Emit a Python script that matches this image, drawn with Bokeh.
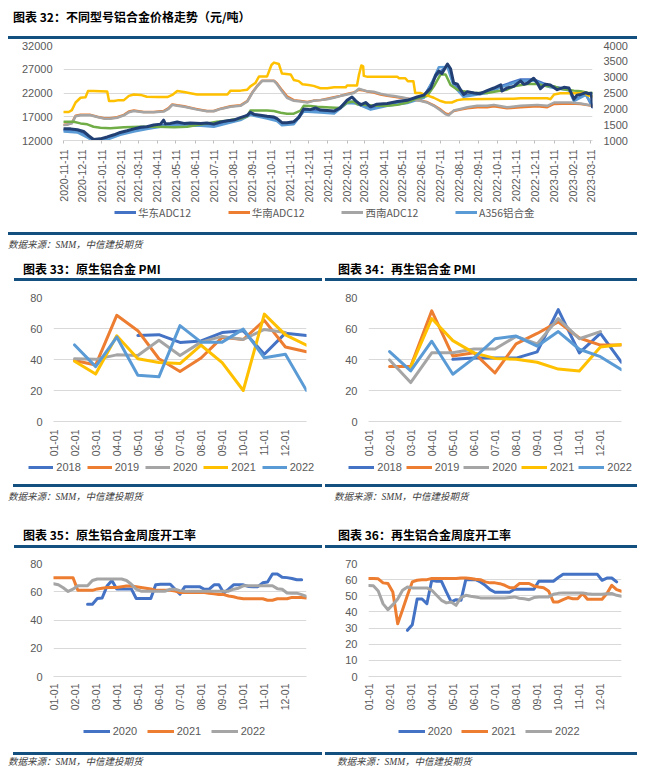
import numpy as np
import pandas as pd
from bokeh.plotting import figure
from bokeh.models import Range1d, LinearAxis, FixedTicker, Legend, LegendItem, Div
from bokeh.layouts import column, row
from bokeh.embed import file_html
from bokeh.resources import INLINE

NUM_FONT = "Liberation Sans"
CJK_FONT = "Noto Sans CJK SC"
AXIS_COLOR = "#595959"
GRID_COLOR = "#D9D9D9"
RULE_COLOR = "#134F7F"

# ---------------- Chart 32: alloy prices (x = days since 2020-11-11) ----------------
PRICE_START = "2020-11-11"
PRICE_TICK_END = "2023-03-11"
LEFT_TICKS = [12000, 17000, 22000, 27000, 32000]
RIGHT_TICKS = [1000, 1500, 2000, 2500, 3000, 3500, 4000]

EAST_DAYS = [0, 22, 40, 48, 70, 91, 113, 134, 156, 172, 194, 221, 242, 264, 285, 301, 328, 344, 352, 371,
             387, 414, 436, 457, 471, 495, 522, 554, 581, 600, 619, 629, 645, 683, 705, 737, 758, 785, 815, 823,
             842, 853]
EAST_ADC12 = [14200, 14000, 12800, 12000, 12500, 13450, 14200, 14650, 15200, 15350, 15350, 15350, 15200, 15900,
              16550, 17700, 16850, 16350, 15500, 15700, 18400, 18150, 17950, 20200, 20100, 18850, 19550, 20200,
              21300, 25500, 27850, 23850, 21450, 22250, 23450, 24850, 24850, 23450, 22800, 20450, 21800, 19000]

A356_DAYS = [0, 22, 40, 48, 70, 91, 113, 134, 156, 172, 194, 221, 242, 264, 285, 301, 328, 344, 352, 371,
             387, 414, 436, 457, 471, 495, 522, 554, 581, 595, 605, 619, 629, 645, 683, 705, 737, 758, 785, 815,
             823, 842, 853]
A356 = [13900, 13700, 12500, 11800, 12200, 13200, 13900, 14400, 14900, 15100, 15100, 15100, 14900, 15600, 16300,
        17400, 16600, 16100, 15200, 15400, 18100, 17900, 17700, 19900, 19800, 18500, 19300, 19900, 21000, 24500,
        27400, 27500, 23500, 21200, 22000, 23200, 24600, 24600, 23200, 22600, 20300, 21600, 19500]

SW_DAYS = [0, 5, 13, 19, 27, 43, 54, 65, 75, 86, 97, 105, 113, 129, 145, 161, 169, 175, 183, 194,
           204, 215, 231, 242, 253, 269, 285, 296, 304, 312, 320, 339, 344, 352, 360, 371, 382, 393, 403, 414,
           425, 436, 446, 457, 468, 476, 481, 490, 500, 511, 522, 533, 549, 560, 575, 586, 597, 608, 616, 621,
           629, 640, 651, 667, 683, 694, 715, 737, 764, 780, 791, 818, 834, 853]
SW_ADC12 = [15250, 15300, 15600, 17100, 17300, 17300, 16950, 16600, 16600, 16800, 17300, 17950, 18200, 17950,
            17950, 18100, 18650, 19500, 19300, 19100, 18850, 18500, 18150, 18150, 18650, 19100, 19300, 20200,
            22000, 23400, 24550, 24550, 23850, 22350, 21000, 20350, 20200, 20000, 20350, 20500, 20700, 21000,
            21350, 21700, 22000, 22900, 22700, 22350, 22250, 21850, 21550, 21350, 21000, 20700, 20350, 20000,
            19300, 18300, 17500, 17300, 18300, 18650, 19000, 19300, 19300, 19500, 19000, 19300, 19500, 19300,
            20000, 20000, 19800, 19300]
SOUTH_ADC12 = [15300, 15350, 15700, 17200, 17400, 17400, 17000, 16700, 16700, 16900, 17400, 18100, 18300, 18000,
               18000, 18200, 18800, 19600, 19400, 19200, 18900, 18600, 18200, 18200, 18700, 19200, 19400, 20300,
               22100, 23500, 24600, 24600, 24000, 22600, 21300, 20500, 20300, 20100, 20400, 20500, 20800, 21100,
               21400, 21800, 22100, 22700, 22600, 22300, 22100, 21700, 21400, 21200, 20900, 20700, 20400, 20100,
               19400, 18500, 17700, 17500, 18200, 18500, 18800, 19000, 19000, 19200, 18800, 19000, 19200, 19000,
               19700, 19800, 19700, 19300]

GREEN_DAYS = [0, 16, 27, 38, 48, 59, 75, 97, 124, 151, 178, 199, 215, 231, 247, 264, 274, 285, 296, 301,
              312, 328, 339, 350, 360, 371, 382, 387, 398, 409, 430, 446, 457, 468, 473, 484, 505, 522, 538, 554,
              570, 586, 597, 608, 616, 624, 635, 645, 662, 683, 699, 715, 726, 748, 764, 780, 791, 801, 812, 823,
              834, 845, 853]
GREEN_SERIES = [15950, 15950, 15600, 15400, 14900, 14700, 14600, 14800, 14900, 14900, 14800, 14900, 15250, 15600,
                15950, 16150, 16400, 16600, 17100, 18300, 18300, 18300, 18200, 17850, 17650, 17650, 18300, 19300,
                19250, 19100, 18950, 18850, 20000, 20200, 19650, 19500, 19300, 19300, 19500, 20000, 20900, 21350,
                23400, 25900, 25900, 23700, 22700, 22350, 22000, 22000, 22350, 22700, 23400, 23900, 23900, 23400,
                23400, 22900, 22700, 22500, 22350, 22050, 22000]

YELLOW_DAYS = [0, 8, 13, 19, 27, 35, 39, 48, 70, 73, 81, 89, 97, 105, 113, 124, 134, 151, 167, 175,
               183, 194, 204, 215, 231, 264, 269, 285, 296, 301, 309, 315, 328, 335, 339, 347, 352, 366, 371, 379,
               385, 395, 403, 414, 425, 436, 455, 457, 473, 476, 480, 483, 484, 490, 538, 541, 551, 555, 564, 567,
               575, 586, 597, 608, 616, 626, 635, 645, 726, 737, 780, 785, 791, 801, 834, 839, 845, 849, 853]
YELLOW_SERIES = [18000, 18000, 18400, 20000, 21000, 21100, 22400, 22400, 22300, 20300, 20300, 20500, 20500, 21400,
                 21700, 21600, 21200, 21150, 21150, 21600, 22400, 22200, 21950, 21700, 21700, 21700, 22500, 22500,
                 22700, 23400, 24100, 25500, 25500, 27900, 28400, 28100, 26100, 25900, 24750, 24500, 23850, 23700,
                 23500, 23000, 23000, 23200, 23200, 23600, 23600, 25700, 27800, 27600, 25600, 25400, 25400, 25100,
                 25100, 24500, 24500, 22000, 22000, 21500, 21000, 20300, 20000, 20000, 20500, 20700, 20800, 20900,
                 20900, 20700, 21700, 21950, 21950, 22050, 21550, 21350, 21300]

NAVY_DAYS = [0, 11, 22, 32, 40, 48, 59, 70, 81, 91, 102, 113, 124, 134, 145, 156, 161, 164, 172, 183,
             194, 204, 221, 231, 242, 253, 264, 274, 285, 296, 301, 307, 317, 328, 339, 344, 352, 360, 371, 379,
             387, 398, 406, 414, 425, 436, 446, 457, 465, 471, 479, 487, 495, 505, 522, 538, 554, 570, 581, 592,
             600, 605, 610, 619, 624, 629, 635, 640, 645, 651, 662, 672, 683, 694, 705, 707, 715, 726, 737, 742,
             748, 758, 764, 769, 777, 785, 796, 807, 815, 823, 828, 834, 842, 847, 851, 853]
NAVY_SERIES = [14450, 14450, 14250, 13900, 13000, 12200, 12350, 12750, 13200, 13700, 14050, 14450, 14800, 14900,
               15250, 15450, 16300, 15500, 15600, 15900, 15600, 15700, 15600, 15700, 15450, 15900, 16150, 16300,
               16800, 17300, 17950, 17500, 17300, 17100, 16950, 16600, 15750, 15750, 15950, 16800, 18650, 18500,
               18850, 18400, 18300, 18200, 18850, 20450, 21150, 20350, 19500, 20000, 19100, 19650, 19800, 20200,
               20450, 21150, 21550, 23050, 25750, 26600, 26100, 28100, 27100, 24100, 23850, 22700, 21700, 22250,
               22000, 21850, 22500, 23050, 23700, 22400, 23050, 23400, 24550, 23850, 24050, 25100, 24100, 22900,
               23850, 23700, 22700, 23200, 23050, 20700, 21550, 21700, 22050, 21850, 21950, 19100]

PRICE_LEGEND = ["华东ADC12", "华南ADC12", "西南ADC12", "A356铝合金"]
PRICE_LEGEND_COLORS = ["#4472C4", "#ED7D31", "#A5A5A5", "#5B9BD5"]

# ---------------- Charts 33/34: PMI (monthly, index 1..12) ----------------
MONTH_LABELS = ["01-01", "02-01", "03-01", "04-01", "05-01", "06-01",
                "07-01", "08-01", "09-01", "10-01", "11-01", "12-01"]
PMI_YEARS = ["2018", "2019", "2020", "2021", "2022"]
PRIMARY_PMI = {
    "2018": [None, None, None, 55.5, 56, 51, 52, 57.4, 58.6, 43.4, 57, 55.5],
    "2019": [39.3, 36.4, 68.5, 58.6, 40.5, 32.3, 41, 54.3, 52.9, 65.2, 48.1, 45],
    "2020": [40.5, 40.1, 43, 42.6, 52.4, 42.6, 51.2, 54.9, 52.9, 59.4, 57.4, None],
    "2021": [38.9, 30.6, 55.3, 40.5, 38, 37.4, 49.2, 38, 20, 69.3, 55.9, 49.2],
    "2022": [49.4, 35.4, 54.5, 29.8, 28.8, 61.9, 51.2, 51.2, 59.6, 41.1, 43.4, 20],
}
SECONDARY_PMI = {
    "2018": [None, None, None, 40.1, 40.9, 40.9, 40.9, 44.9, 72.2, 44.3, 56.8, 38.2],
    "2019": [35.5, 35.5, 71.4, 42.2, 44.3, 31.3, 50.1, 56.8, 64.3, 53.9, 49.3, 49.3],
    "2020": [39.7, 25.1, 44.3, 44.3, 46.8, 46.8, 54.9, 50.1, 66.4, 53.4, 58.0, None],
    "2021": [None, 35.1, 66.4, 52.2, 44.3, 40.7, 40.1, 38.2, 33.8, 32.6, 48, 49.7],
    "2022": [45.1, 32.6, 51.8, 30.5, 40.9, 53.4, 55.1, 48.6, 58, 46.6, 41.8, 33.4],
}
PMI_COLORS = {"2018": "#4472C4", "2019": "#ED7D31", "2020": "#A5A5A5", "2021": "#FFC000", "2022": "#5B9BD5"}

# ---------------- Charts 35/36: weekly operating rates ----------------
WEEK_YEARS = ["2020", "2021", "2022"]
WEEK_COLORS = {"2020": "#4472C4", "2021": "#ED7D31", "2022": "#A5A5A5"}
PRIMARY_START_WEEK = {"2020": 7, "2021": 0, "2022": 0}
PRIMARY_RATE = {
    "2020": [51.2, 51.2, 55.2, 55.6, 64, 68, 62, 62, 62, 62, 55.2, 55.2, 55.2, 55.2, 64.9, 65.3, 65.3, 65.3,
             61.8, 58.3, 63.6, 63.6, 63.6, 63.6, 61.8, 61.8, 64.9, 64.9, 59.1, 61.8, 64.9, 64.9, 64.9, 63.8,
             63.6, 63.6, 66.3, 66.9, 72.6, 72.6, 70.2, 70, 69.4, 68.5, 68.5],
    "2021": [70, 70, 70, 70, 70, 61, 61, 61, 61, 62, 62.5, 63, 63, 63, 63.5, 64, 64, 63.5, 63, 62.5, 62, 61,
             61, 61, 61, 60.5, 59.5, 59.5, 59.5, 59.5, 59.5, 59.5, 59, 58.5, 58, 58, 57, 56.5, 55.5, 55, 55,
             55, 55, 55, 54, 54, 55, 55, 55, 56, 56, 56, 55.5],
    "2022": [65.7, 65, 62.8, 60.2, 61.8, 64.2, 64.2, 64.2, 68, 69, 69, 69, 69, 69, 69, 68, 65.3, 61.8, 60.4,
             60.4, 60.4, 60.4, 60.4, 60.4, 61.8, 61.8, 60.8, 60.4, 60.4, 60.4, 60.4, 60.4, 60.4, 60.4, 60.4,
             60.4, 60.4, 61.8, 62.5, 64.2, 64.2, 64.2, 64.2, 64.2, 64.2, 64.2, 62.2, 61.8, 59.1, 59, 59, 58,
             56.7],
}
SECONDARY_START_WEEK = {"2020": 8, "2021": 0, "2022": 0}
SECONDARY_RATE = {
    "2020": [28.6, 32.1, 48, 48, 45.1, 59.6, 59, 59, 52.4, 46.2, 47.6, 47.2, 60, 60, 60, 58.6, 56.5, 53.8,
             52.2, 52.2, 52.2, 52.2, 54, 54, 54, 54, 54, 59, 59, 59, 59, 61.3, 63.4, 63.4, 63.4, 63.4, 63.4,
             63.4, 63.4, 63.4, 59.6, 61, 61, 58.6],
    "2021": [60.7, 60.7, 60.5, 58, 57.6, 52.4, 32.7, 41.4, 50.3, 58.6, 59.6, 60, 60, 60.7, 60.7, 60.7, 60.7,
             60.7, 60.7, 61, 61, 60.7, 60.3, 60, 58.6, 58, 58, 57.5, 56.5, 55, 55, 57.6, 57.6, 57.6, 56.1, 55.5,
             55, 53, 46.2, 46.2, 47.6, 48.9, 48.2, 48.2, 51.4, 47.8, 47.8, 47.8, 47.8, 51.4, 56.5, 53.8, 52.8],
    "2022": [56.3, 56.2, 53, 45, 41.4, 44.5, 48, 53.4, 55.5, 54.9, 54.9, 54.9, 54.9, 53.4, 50.3, 47.2, 45.6,
             46.2, 44.1, 48.9, 50.3, 49.7, 49.2, 48.7, 48.7, 48.7, 48.7, 48.7, 48.7, 49, 49.3, 48.5, 48.2, 47.6,
             48.9, 49.3, 49.3, 49.3, 50.9, 51.5, 51.8, 51.8, 51.8, 51.8, 51.8, 51.3, 50.9, 50.9, 50.9, 51.2,
             51.4, 50.3, 49.7],
}
WEEKS_PER_YEAR = 52

TITLE_32 = "图表 32：不同型号铝合金价格走势（元/吨）"
TITLE_33 = "图表 33：原生铝合金 PMI"
TITLE_34 = "图表 34：再生铝合金 PMI"
TITLE_35 = "图表 35：原生铝合金周度开工率"
TITLE_36 = "图表 36：再生铝合金周度开工率"
SOURCE = "数据来源：SMM，中信建投期货"


# ---------------- helpers ----------------
def base_fig(width, height, x_range, y_range, borders, yticks):
    l, r, t, b = borders
    p = figure(width=width, height=height, x_range=x_range, y_range=y_range,
               output_backend="svg", toolbar_location=None, title=None,
               min_border_left=l, min_border_right=r, min_border_top=t, min_border_bottom=b,
               background_fill_color="white", border_fill_color="white")
    p.outline_line_color = None
    p.xgrid.visible = False
    p.ygrid.grid_line_color = GRID_COLOR
    p.ygrid.grid_line_width = 1
    ya = p.yaxis[0]
    ya.ticker = FixedTicker(ticks=yticks)
    ya.axis_line_color = None
    ya.major_tick_line_color = None
    ya.minor_tick_line_color = None
    ya.major_tick_out = 0
    ya.major_tick_in = 0
    ya.major_label_standoff = 11
    ya.major_label_text_font = NUM_FONT
    ya.major_label_text_font_size = "11px"
    ya.major_label_text_color = AXIS_COLOR
    xa = p.xaxis[0]
    xa.axis_line_color = GRID_COLOR
    xa.minor_tick_line_color = None
    xa.major_label_orientation = np.pi / 2
    xa.major_label_text_font = NUM_FONT
    xa.major_label_text_color = AXIS_COLOR
    return p


def legend_strip(width, height, entries, x0, pitch, y0, glyph_w, standoff, font, size, line_w):
    """A thin figure that only holds the legend entries, one Legend per entry."""
    p = figure(width=width, height=height, x_range=Range1d(0, width), y_range=Range1d(0, height),
               output_backend="svg", toolbar_location=None, title=None, min_border=0,
               x_axis_location=None, y_axis_location=None,
               background_fill_color="white", border_fill_color="white")
    p.outline_line_color = None
    p.xgrid.visible = False
    p.ygrid.visible = False
    for i, (label, color) in enumerate(entries):
        r = p.line(x=[np.nan, np.nan], y=[np.nan, np.nan], line_color=color, line_width=line_w)
        lg = Legend(items=[LegendItem(label=label, renderers=[r])], location=(x0 + i * pitch, y0),
                    orientation="horizontal", glyph_width=glyph_w, glyph_height=12, label_height=12,
                    label_width=5, label_standoff=standoff, spacing=0, padding=0, margin=0,
                    border_line_color=None, background_fill_alpha=0,
                    label_text_font=font, label_text_font_size=size, label_text_color=AXIS_COLOR,
                    label_text_align="left")
        p.add_layout(lg, "center")
    return p


def title_div(text, width, height, pad_top, rule_left, rule_w, indent):
    html = (f'<div style="margin-left:{rule_left}px;width:{rule_w}px;height:{height}px;box-sizing:border-box;'
            f'border-bottom:3px solid {RULE_COLOR};padding-top:{pad_top}px;padding-left:{indent}px;'
            f'font-family:\'{CJK_FONT}\';font-weight:700;font-size:12px;line-height:14px;color:#000;'
            f'white-space:nowrap;">{text}</div>')
    return Div(text=html, width=width, height=height, margin=0)


def source_div(width, height, top_gap, rule_left, rule_w, indent, pad_top):
    html = (f'<div style="height:{top_gap}px"></div>'
            f'<div style="margin-left:{rule_left}px;width:{rule_w}px;height:0;border-top:3px solid {RULE_COLOR};"></div>'
            f'<div style="padding-left:{indent}px;padding-top:{pad_top}px;font-style:italic;font-size:9.5px;'
            f'line-height:12px;font-family:\'Liberation Serif\',\'{CJK_FONT}\';color:#404040;white-space:nowrap;">'
            f'{SOURCE}</div>')
    return Div(text=html, width=width, height=height, margin=0)


# ---------------- Chart 32 ----------------
tick_dates = pd.date_range(PRICE_START, PRICE_TICK_END, freq=pd.DateOffset(months=1))
tick_days = [int((d - pd.Timestamp(PRICE_START)).days) for d in tick_dates]
tick_labels = [d.strftime("%Y-%m-%d") for d in tick_dates]

p1 = base_fig(629, 166, Range1d(-0.5, 853), Range1d(LEFT_TICKS[0], LEFT_TICKS[-1]), (55, 45, 6, 64), LEFT_TICKS)
p1.extra_y_ranges = {"right": Range1d(RIGHT_TICKS[0], RIGHT_TICKS[-1])}
ra = LinearAxis(y_range_name="right", ticker=FixedTicker(ticks=RIGHT_TICKS))
ra.axis_line_color = None
ra.major_tick_line_color = None
ra.minor_tick_line_color = None
ra.major_tick_out = 0
ra.major_tick_in = 0
ra.major_label_standoff = 11
ra.major_label_text_font = NUM_FONT
ra.major_label_text_font_size = "11px"
ra.major_label_text_color = AXIS_COLOR
p1.add_layout(ra, "right")
xa = p1.xaxis[0]
xa.ticker = FixedTicker(ticks=tick_days)
xa.major_label_overrides = {d: lab for d, lab in zip(tick_days, tick_labels)}
xa.major_tick_out = 3
xa.major_tick_in = 0
xa.major_tick_line_color = "#BFBFBF"
xa.major_label_standoff = 6
xa.major_label_text_font_size = "10.5px"


def pline(days, vals, color, width):
    n = min(len(days), len(vals))
    return p1.line(days[:n], vals[:n], line_color=color, line_width=width, line_join="round", line_cap="round")


pline(EAST_DAYS, EAST_ADC12, PRICE_LEGEND_COLORS[0], 2.5)
pline(A356_DAYS, A356, PRICE_LEGEND_COLORS[3], 2.5)
pline(SW_DAYS, SOUTH_ADC12, PRICE_LEGEND_COLORS[1], 2.5)
pline(SW_DAYS, SW_ADC12, PRICE_LEGEND_COLORS[2], 2.5)
pline(GREEN_DAYS, GREEN_SERIES, "#70AD47", 2.5)
pline(YELLOW_DAYS, YELLOW_SERIES, "#FFC000", 2.5)
pline(NAVY_DAYS, NAVY_SERIES, "#223F73", 3)

leg1 = legend_strip(629, 16, list(zip(PRICE_LEGEND, PRICE_LEGEND_COLORS)), 51, 113.7, 1.5, 22, 2,
                    CJK_FONT, "10.5px", 3)


# ---------------- month-axis charts ----------------
def month_axis(p, standoff):
    xa = p.xaxis[0]
    xa.ticker = FixedTicker(ticks=list(range(12)))
    xa.major_label_overrides = {i: lab for i, lab in enumerate(MONTH_LABELS)}
    xa.major_tick_out = 0
    xa.major_tick_in = 0
    xa.major_tick_line_color = None
    xa.major_label_standoff = standoff
    xa.major_label_text_font_size = "10.5px"


def pmi_fig(width, height, borders, data):
    p = base_fig(width, height, Range1d(0, 12), Range1d(0, 80), borders, [0, 20, 40, 60, 80])
    month_axis(p, 8)
    x = np.arange(1, 13)
    for yr in PMI_YEARS:
        y = np.array(data[yr], dtype=float)
        p.line(x, y, line_color=PMI_COLORS[yr], line_width=3, line_join="round", line_cap="round")
    return p


def week_fig(width, height, borders, data, starts, ymax, ystep, standoff):
    ticks = list(range(0, ymax + 1, ystep))
    p = base_fig(width, height, Range1d(0, 12), Range1d(0, ymax), borders, ticks)
    month_axis(p, standoff)
    for yr in WEEK_YEARS:
        vals = np.array(data[yr], dtype=float)
        x = (starts[yr] + np.arange(len(vals))) * 12.0 / WEEKS_PER_YEAR
        p.line(x, vals, line_color=WEEK_COLORS[yr], line_width=3, line_join="round", line_cap="round")
    return p


p33 = pmi_fig(317, 178, (45, 19, 13, 35), PRIMARY_PMI)
p34 = pmi_fig(312, 178, (43, 16, 16, 35), SECONDARY_PMI)
pmi_entries = [(yr, PMI_COLORS[yr]) for yr in PMI_YEARS]
leg33 = legend_strip(317, 16, pmi_entries, 20.3, 58.35, 2, 25, 3, NUM_FONT, "11px", 3)
leg34 = legend_strip(312, 16, pmi_entries, 23.3, 57.5, 2, 26, 3, NUM_FONT, "11px", 3)

p35 = week_fig(317, 176, (45, 19, 11, 35), PRIMARY_RATE, PRIMARY_START_WEEK, 80, 20, 7)
p36 = week_fig(312, 176, (43, 16, 15, 48), SECONDARY_RATE, SECONDARY_START_WEEK, 70, 10, 7)
week_entries = [(yr, WEEK_COLORS[yr]) for yr in WEEK_YEARS]
leg35 = legend_strip(317, 16, week_entries, 74.7, 64, 3, 27, 3, NUM_FONT, "11px", 3)
leg36 = legend_strip(312, 16, week_entries, 72.7, 63.7, 3, 27, 3, NUM_FONT, "11px", 3)

# ---------------- layout ----------------
layout = column(
    title_div(TITLE_32, 629, 31, 2, 0, 629, 5),
    p1,
    leg1,
    source_div(629, 30, 11, 0, 629, 0, 4),
    row(title_div(TITLE_33, 317, 30, 11, 6, 308, 9), title_div(TITLE_34, 312, 30, 11, 0, 312, 13), spacing=0),
    row(p33, p34, spacing=0),
    row(leg33, leg34, spacing=0),
    row(source_div(317, 29, 9, 5, 309, 0, 4), source_div(312, 29, 9, 0, 312, 9, 4), spacing=0),
    row(title_div(TITLE_35, 317, 44, 24, 6, 308, 9), title_div(TITLE_36, 312, 44, 24, 0, 312, 13), spacing=0),
    row(p35, p36, spacing=0),
    row(leg35, leg36, spacing=0),
    row(source_div(317, 28, 12, 5, 309, 0, 1), source_div(312, 28, 12, 0, 312, 12, 1), spacing=0),
    spacing=0,
    margin=(8, 0, 0, 8),
)

open("out.html", "w").write(file_html(layout, INLINE))
